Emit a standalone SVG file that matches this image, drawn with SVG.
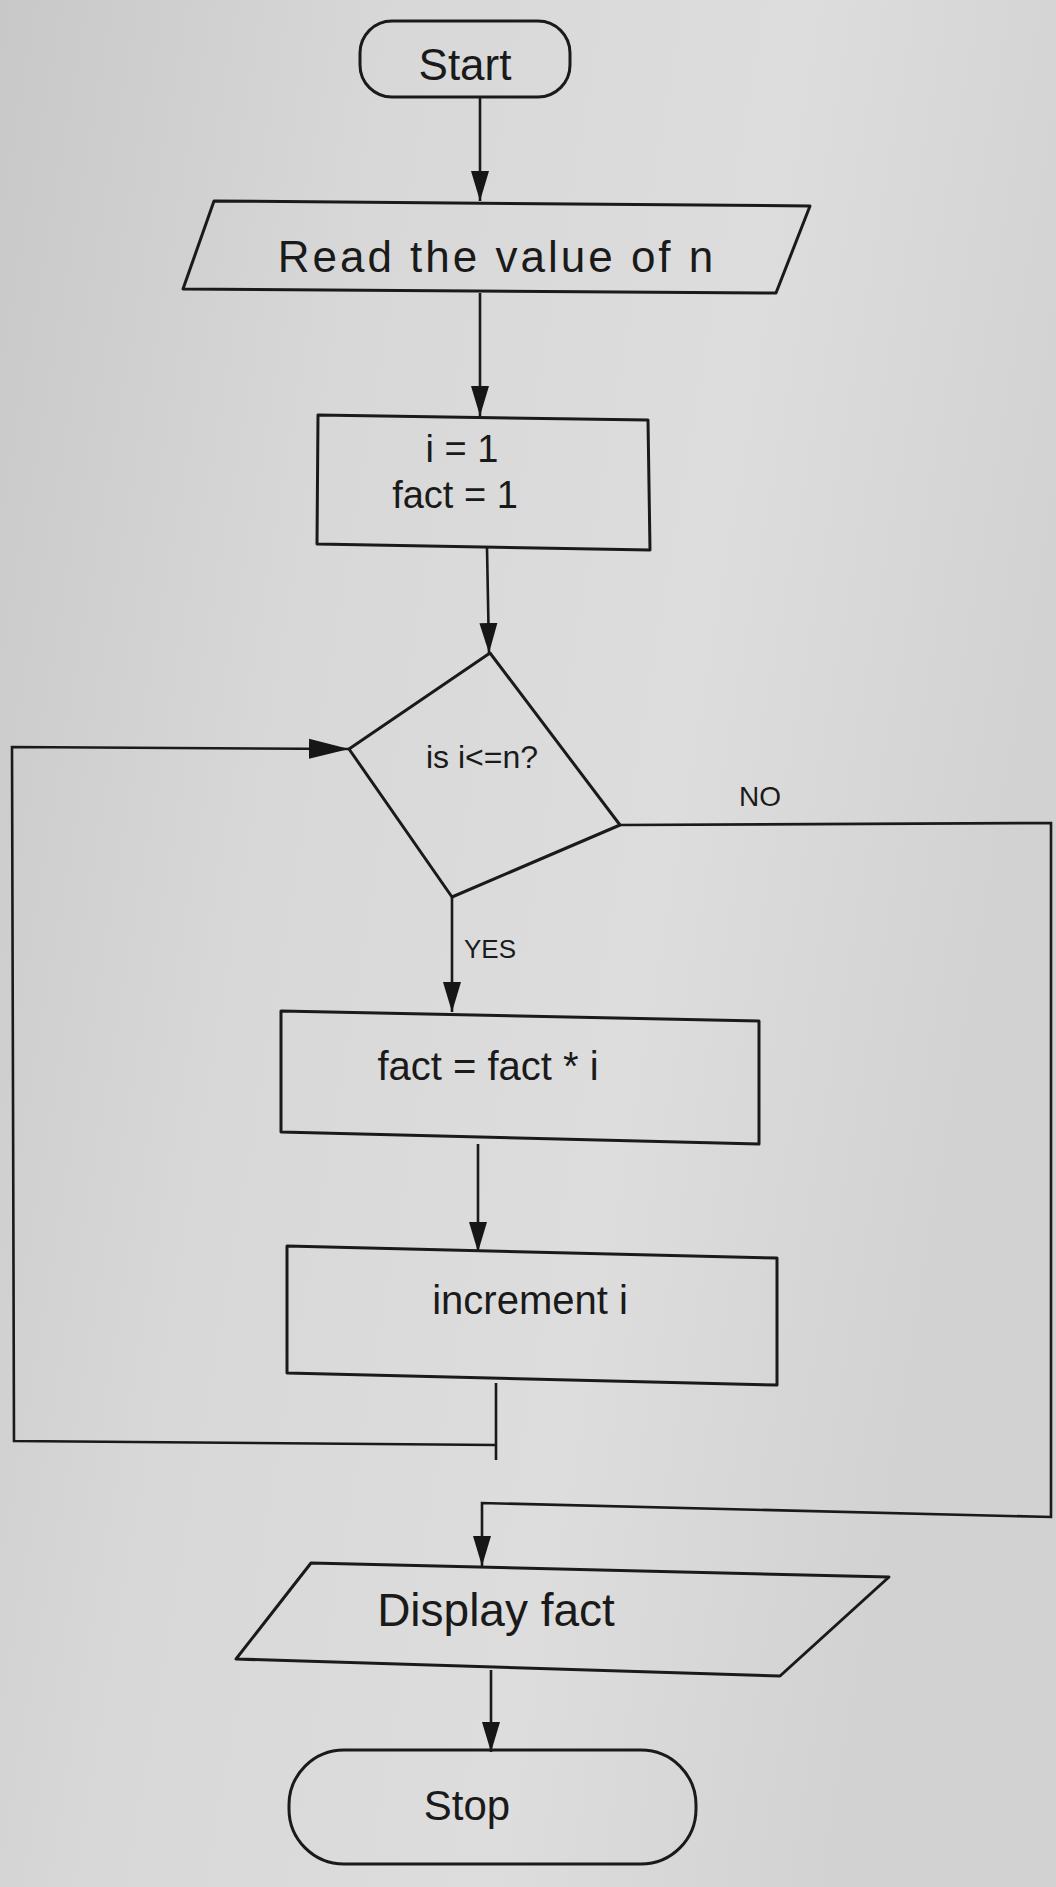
<svg xmlns="http://www.w3.org/2000/svg" width="1056" height="1887" viewBox="0 0 1056 1887">
<defs>
<linearGradient id="paper" x1="0" y1="0" x2="1" y2="0.3">
<stop offset="0" stop-color="#c8c8c8"/>
<stop offset="0.35" stop-color="#d8d8d8"/>
<stop offset="0.7" stop-color="#dedddd"/>
<stop offset="1" stop-color="#d2d2d2"/>
</linearGradient>
<marker id="ah" viewBox="0 0 30 20" refX="30" refY="10" markerWidth="30" markerHeight="20" markerUnits="userSpaceOnUse" orient="auto">
<path d="M0,1 L30,10 L0,19 Z" fill="#161616"/>
</marker>
<marker id="ahr" viewBox="0 0 40 24" refX="40" refY="12" markerWidth="40" markerHeight="24" markerUnits="userSpaceOnUse" orient="auto">
<path d="M0,2 L40,12 L0,22 Z" fill="#161616"/>
</marker>
<style>
.shape{fill:none;stroke:#1a1a1a;stroke-width:3;stroke-linejoin:round}
.line{fill:none;stroke:#1a1a1a;stroke-width:2.6}
.t{font-family:"Liberation Sans","Open Sans",sans-serif;fill:#1a1a1a;text-anchor:middle}
</style>
</defs>
<rect x="0" y="0" width="1056" height="1887" fill="url(#paper)"/>

<g id="connectors">
<line class="line" x1="480" y1="97" x2="480" y2="201" marker-end="url(#ah)"/>
<line class="line" x1="480" y1="293" x2="480" y2="416" marker-end="url(#ah)"/>
<line class="line" x1="487" y1="548" x2="489" y2="653" marker-end="url(#ah)"/>
<line class="line" x1="452" y1="897" x2="452" y2="1012" marker-end="url(#ah)"/>
<line class="line" x1="478" y1="1144" x2="478" y2="1252" marker-end="url(#ah)"/>
<line class="line" x1="491" y1="1670" x2="491" y2="1752" marker-end="url(#ah)"/>
<polyline class="line" points="496,1383 496,1460"/>
<polyline class="line" points="496,1445 14,1441 12,747 349,749" marker-end="url(#ahr)"/>
<polyline class="line" points="620,825 1051,823 1051,1517 482,1503 482,1566" marker-end="url(#ah)"/>
<text class="t" x="760" y="806" font-size="28">NO</text>
<text class="t" x="490" y="958" font-size="26">YES</text>
</g>

<g id="start">
<rect class="shape" x="360" y="21" width="210" height="76" rx="32"/>
<text class="t" x="465" y="80" font-size="44">Start</text>
</g>

<g id="read">
<polygon class="shape" points="214,201 810,206 776,293 183,289"/>
<text class="t" x="497" y="272" font-size="44" letter-spacing="3">Read the value of n</text>
</g>

<g id="init">
<polygon class="shape" points="318,415 648,420 650,550 317,544"/>
<text class="t" x="462" y="462" font-size="38">i = 1</text>
<text class="t" x="455" y="508" font-size="38">fact = 1</text>
</g>

<g id="decision">
<polygon class="shape" points="490,653 620,825 452,897 349,749"/>
<text class="t" x="482" y="768" font-size="32">is i&lt;=n?</text>
</g>

<g id="multiply">
<polygon class="shape" points="281,1011 759,1021 759,1144 281,1132"/>
<text class="t" x="488" y="1080" font-size="40">fact = fact * i</text>
</g>

<g id="increment">
<polygon class="shape" points="287,1246 777,1258 777,1385 287,1373"/>
<text class="t" x="530" y="1314" font-size="40">increment i</text>
</g>

<g id="display">
<polygon class="shape" points="311,1563 889,1577 780,1676 236,1659"/>
<text class="t" x="496" y="1626" font-size="46">Display fact</text>
</g>

<g id="stop">
<rect class="shape" x="289" y="1750" width="407" height="114" rx="55"/>
<text class="t" x="467" y="1820" font-size="42">Stop</text>
</g>
</svg>
